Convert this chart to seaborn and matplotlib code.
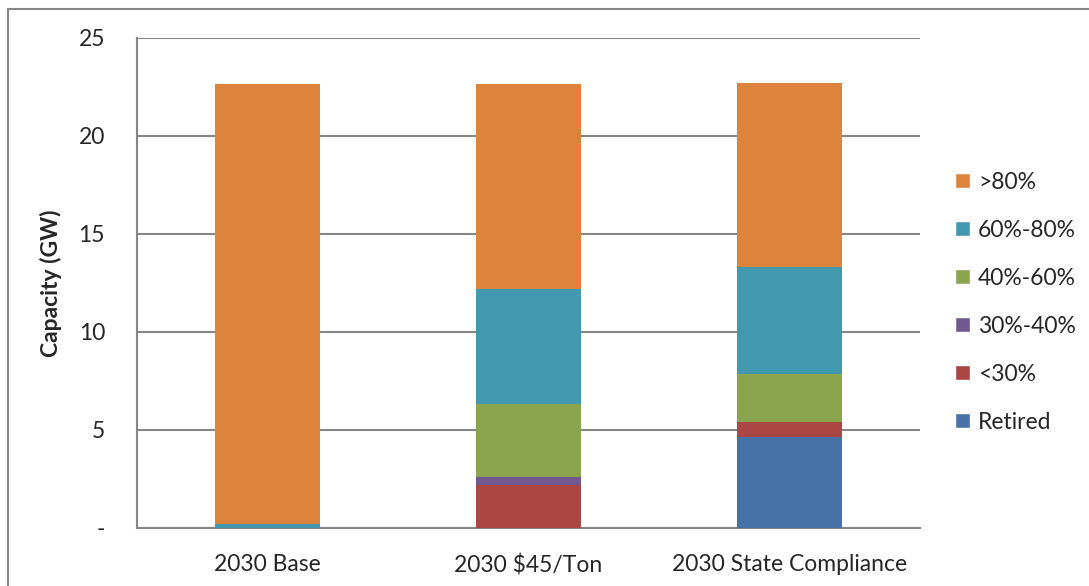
import matplotlib
matplotlib.use("Agg")
import matplotlib.pyplot as plt
import seaborn as sns
import pandas as pd
import numpy as np
from matplotlib.patches import Patch, Rectangle

categories = ["2030 Base", "2030 $45/Ton", "2030 State Compliance"]
series_names = ["Retired", "<30%", "30%-40%", "40%-60%", "60%-80%", ">80%"]
retired = [0.0, 0.0, 4.63]
lt30 = [0.0, 2.19, 0.78]
p30_40 = [0.0, 0.43, 0.0]
p40_60 = [0.0, 3.69, 2.45]
p60_80 = [0.2, 5.90, 5.46]
gt80 = [22.45, 10.44, 9.38]
colors = ["#4572A7", "#AA4644", "#71598F", "#8BA54F", "#4198AF", "#DD843C"]
yticks = [0, 5, 10, 15, 20, 25]
yticklabels = ["-", "5", "10", "15", "20", "25"]

series = [retired, lt30, p30_40, p40_60, p60_80, gt80]

sns.set_style("white")
plt.rcParams["font.family"] = ["Lato", "DejaVu Sans"]
FS = 16.5

fig = plt.figure(figsize=(10.89, 5.86), dpi=100)
ax = fig.add_axes([137/1089, 58/586, (920-137)/1089, (528-38)/586])

cum = np.zeros(len(categories))
cums = []
for s in series:
    cum = cum + np.array(s)
    cums.append(cum.copy())

# draw from top layer down so lower layers overlay
for name, c, col in reversed(list(zip(series_names, cums, colors))):
    d = pd.DataFrame({"cat": categories, "val": c})
    sns.barplot(data=d, x="cat", y="val", color=col, width=0.4, ax=ax,
                saturation=1, edgecolor="none", linewidth=0, zorder=3)

ax.set_ylim(0, 25)
ax.set_xlim(-0.5, 2.5)
ax.set_yticks(yticks)
ax.set_yticklabels(yticklabels)
ax.yaxis.grid(True, color="#868686", linewidth=1.5, zorder=0)
ax.set_axisbelow(True)
for sp in ["top", "right"]:
    ax.spines[sp].set_visible(False)
for sp in ["left", "bottom"]:
    ax.spines[sp].set_color("#868686")
    ax.spines[sp].set_linewidth(1.5)

ax.set_xticks([0, 1, 2])
ax.set_xticklabels(categories, fontsize=FS)
ax.tick_params(axis="x", length=0, pad=19)
ax.set_xticks([-0.5, 0.5, 1.5, 2.5], minor=True)
ax.tick_params(axis="x", which="minor", length=8, width=1.5, color="#868686", direction="out")
ax.tick_params(axis="y", length=6, width=1.5, color="#868686", direction="out", labelsize=FS, pad=17)
ax.set_xlabel("")
ax.set_ylabel("Capacity (GW)", fontsize=FS, fontweight="bold", labelpad=12)

handles = [Patch(facecolor=c, label=n) for n, c in zip(series_names, colors)]
leg = ax.legend(handles=list(reversed(handles)), loc="center left",
                bbox_to_anchor=(1.045, 0.461), frameon=False, fontsize=FS,
                handlelength=0.65, handleheight=0.65, handletextpad=0.35,
                labelspacing=1.18, borderpad=0, borderaxespad=0)

# outer chart border
fig.patches.append(Rectangle((8/1089, -0.1), 2, 1.1 - 9/586, transform=fig.transFigure,
                             fill=False, edgecolor="#868686", linewidth=1.5))

fig.savefig("out.png", dpi=100)
